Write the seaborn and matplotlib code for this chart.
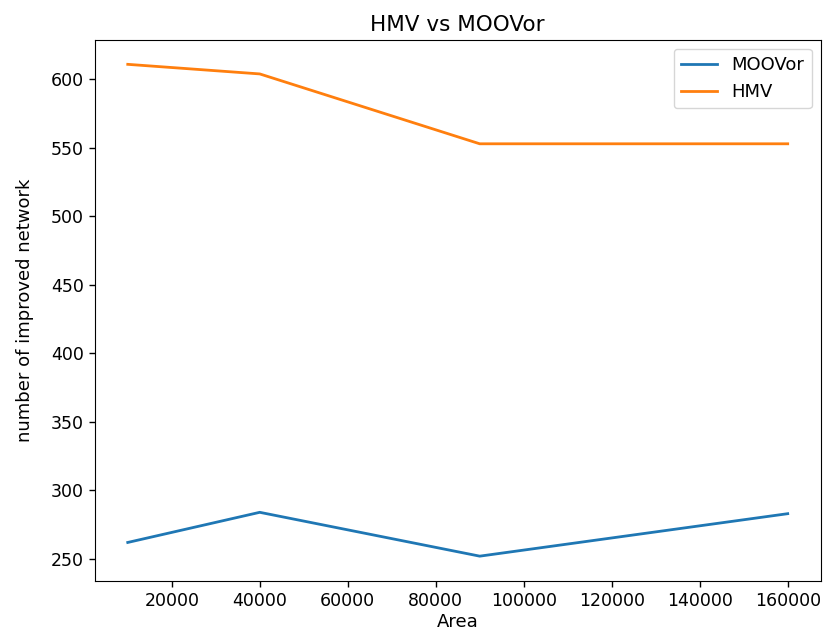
import matplotlib
matplotlib.use("Agg")
import matplotlib.pyplot as plt
import seaborn as sns
import pandas as pd

# data
area = [10000, 40000, 90000, 160000]
moovor = [262, 284, 252, 283]
hmv = [611, 604, 553, 553]

df = pd.DataFrame({"Area": area, "MOOVor": moovor, "HMV": hmv})

plt.rcParams["font.family"] = ["DejaVu Sans"]
plt.rcParams["font.size"] = 13

fig = plt.figure(figsize=(8.24, 6.41), dpi=100)
ax = fig.add_axes([0.115, 0.094, 0.881, 0.844])

sns.lineplot(data=df, x="Area", y="MOOVor", ax=ax, label="MOOVor",
             color="tab:blue", linewidth=2)
sns.lineplot(data=df, x="Area", y="HMV", ax=ax, label="HMV",
             color="tab:orange", linewidth=2)

ax.set_title("HMV vs MOOVor", fontsize=15.5)
ax.set_xlabel("Area", fontsize=13, labelpad=2)
ax.set_ylabel("number of improved network", fontsize=13, labelpad=12)
ax.tick_params(labelsize=12.5, length=4.5, width=1)
ax.legend(loc="upper right", fontsize=13)

fig.savefig("out.png", dpi=100)
